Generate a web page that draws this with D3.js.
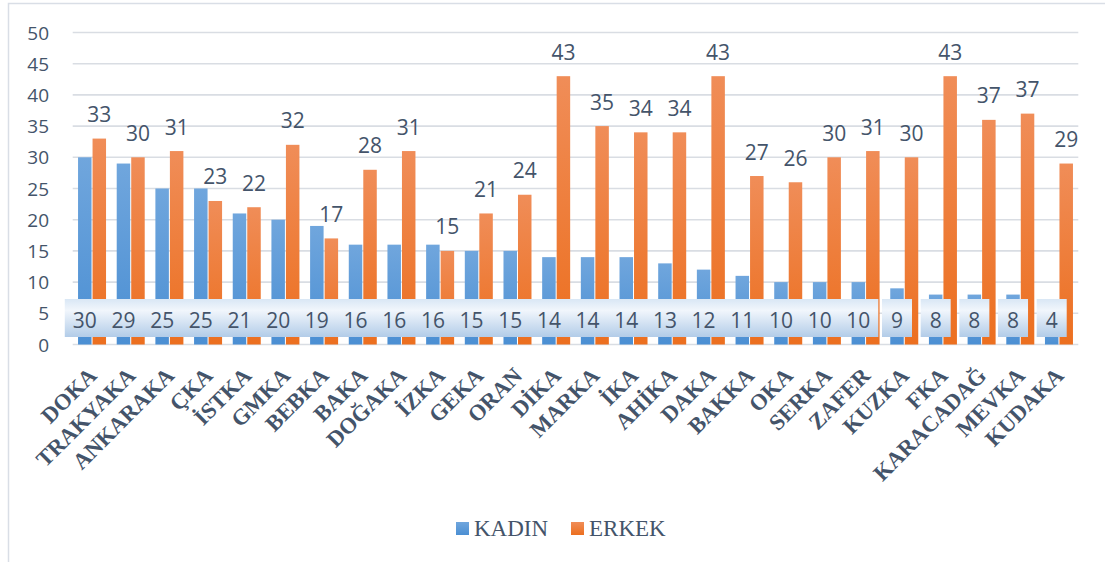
<!DOCTYPE html>
<html>
<head>
<meta charset="utf-8">
<script src="https://cdn.jsdelivr.net/npm/d3@7"></script>
<style>
  body { margin: 0; background: #fff; }
  svg { display: block; }
</style>
</head>
<body>
<svg id="chart" width="1105" height="562"></svg>
<script>
// data
const categories = ["DOKA", "TRAKYAKA", "ANKARAKA", "ÇKA", "İSTKA", "GMKA", "BEBKA", "BAKA",
  "DOĞAKA", "İZKA", "GEKA", "ORAN", "DİKA", "MARKA", "İKA", "AHİKA", "DAKA", "BAKKA",
  "OKA", "SERKA", "ZAFER", "KUZKA", "FKA", "KARACADAĞ", "MEVKA", "KUDAKA"];
const kadin = [30, 29, 25, 25, 21, 20, 19, 16, 16, 16, 15, 15, 14, 14, 14, 13, 12, 11, 10, 10, 10, 9, 8, 8, 8, 4];
const erkek = [33, 30, 31, 23, 22, 32, 17, 28, 31, 15, 21, 24, 43, 35, 34, 34, 43, 27, 26, 30, 31, 30, 43, 36, 37, 29];
// printed labels (KARACADAĞ bar is drawn lower than its label says)
const erkekLabels = [33, 30, 31, 23, 22, 32, 17, 28, 31, 15, 21, 24, 43, 35, 34, 34, 43, 27, 26, 30, 31, 30, 43, 37, 37, 29];
const series = ["KADIN", "ERKEK"];
const yTicks = [0, 5, 10, 15, 20, 25, 30, 35, 40, 45, 50];

const TEXT = "#44546a";
const svg = d3.select("#chart");

// chart frame
svg.append("rect")
  .attr("x", 8.5).attr("y", 3.5)
  .attr("width", 1120).attr("height", 600)
  .attr("fill", "#fff").attr("stroke", "#d9dee6").attr("stroke-width", 1.5);

const defs = svg.append("defs");
function grad(id, stops) {
  const g = defs.append("linearGradient").attr("id", id)
    .attr("x1", 0).attr("y1", 0).attr("x2", 0).attr("y2", 1);
  stops.forEach(s => g.append("stop").attr("offset", s[0]).attr("stop-color", s[1]));
}
grad("gBlue", [[0, "#70a6dd"], [1, "#4b8fd3"]]);
grad("gOrange", [[0, "#f08d58"], [1, "#ec6f1f"]]);
grad("gBox", [[0, "#d9e7f5"], [0.3, "#f1f6fc"], [1, "#b2cce8"]]);

const left = 72.7, right = 1078.3;
const y = d3.scaleLinear().domain([0, 50]).range([344.5, 32.5]);
const x0 = d3.scaleBand().domain(categories).range([left, right])
  .paddingInner(0.276).paddingOuter(0.138);
const x1 = d3.scaleBand().domain(series).range([0, x0.bandwidth()]).paddingInner(0.07);

// grid
svg.append("g").selectAll("line").data(yTicks).join("line")
  .attr("x1", left).attr("x2", right)
  .attr("y1", d => y(d)).attr("y2", d => y(d))
  .attr("stroke", "#d9dde3").attr("stroke-width", 1.6);

// y tick labels
svg.append("g").selectAll("text").data(yTicks).join("text")
  .attr("x", 49).attr("y", d => y(d) + 7)
  .attr("text-anchor", "end")
  .attr("font-family", "Open Sans").attr("font-size", 19)
  .attr("fill", TEXT)
  .text(d => d);

// bars
const rows = categories.map((c, i) => ({ cat: c, KADIN: kadin[i], ERKEK: erkek[i], lab: erkekLabels[i] }));
const groups = svg.append("g").selectAll("g").data(rows).join("g")
  .attr("transform", d => `translate(${x0(d.cat)},0)`);

groups.append("rect")
  .attr("x", x1("KADIN")).attr("width", x1.bandwidth())
  .attr("y", d => y(d.KADIN)).attr("height", d => y(0) - y(d.KADIN))
  .attr("fill", "url(#gBlue)");
groups.append("rect")
  .attr("x", x1("ERKEK")).attr("width", x1.bandwidth())
  .attr("y", d => y(d.ERKEK)).attr("height", d => y(0) - y(d.ERKEK))
  .attr("fill", "url(#gOrange)");

// ERKEK labels above bars
groups.append("text")
  .attr("x", x1("ERKEK") + x1.bandwidth() / 2)
  .attr("y", d => y(d.ERKEK) - 16.5)
  .attr("text-anchor", "middle")
  .attr("font-family", "Open Sans").attr("font-size", 21)
  .attr("fill", TEXT)
  .text(d => d.lab);

// KADIN labels in boxes at the base
const boxes = svg.append("g").selectAll("g").data(rows).join("g")
  .attr("transform", d => `translate(${x0(d.cat) + x1("KADIN") + x1.bandwidth() / 2},0)`);
boxes.append("rect")
  .attr("x", d => d.KADIN >= 10 ? -20 : -15)
  .attr("width", d => d.KADIN >= 10 ? 40 : 30)
  .attr("y", 299).attr("height", 38)
  .attr("fill", "url(#gBox)");
boxes.append("text")
  .attr("y", 327.5)
  .attr("text-anchor", "middle")
  .attr("font-family", "Open Sans").attr("font-size", 21)
  .attr("fill", TEXT)
  .text(d => d.KADIN);

// category labels
svg.append("g").selectAll("text").data(categories).join("text")
  .attr("transform", d => `translate(${x0(d) + x0.bandwidth() / 2 + 6},377) rotate(-45)`)
  .attr("text-anchor", "end")
  .attr("font-family", "Liberation Serif").attr("font-weight", "bold")
  .attr("font-size", 22.5)
  .attr("fill", TEXT)
  .text(d => d);

// legend
const legend = svg.append("g");
const legendItems = [
  { name: "KADIN", fill: "url(#gBlue)", x: 456 },
  { name: "ERKEK", fill: "url(#gOrange)", x: 571 }
];
const li = legend.selectAll("g").data(legendItems).join("g")
  .attr("transform", d => `translate(${d.x},522)`);
li.append("rect").attr("width", 13).attr("height", 13).attr("fill", d => d.fill);
li.append("text")
  .attr("x", 18).attr("y", 14)
  .attr("font-family", "Liberation Serif").attr("font-size", 23)
  .attr("fill", TEXT)
  .text(d => d.name);
</script>
</body>
</html>
